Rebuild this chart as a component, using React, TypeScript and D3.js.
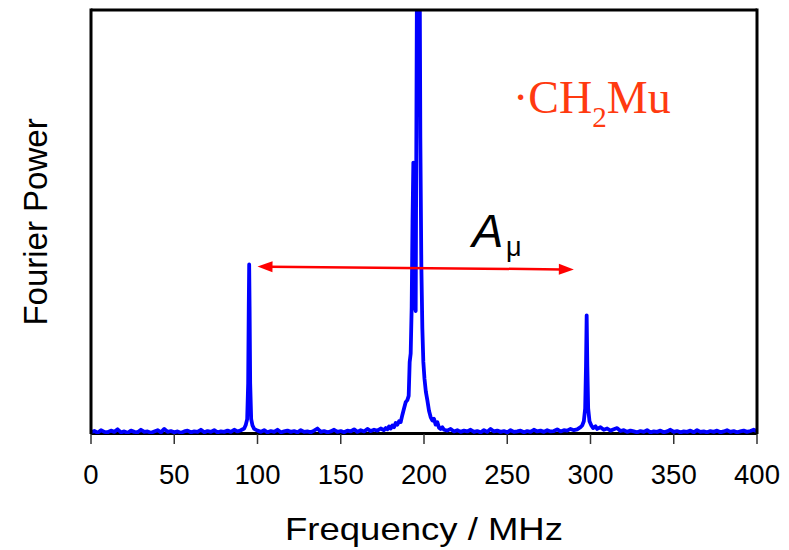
import React from "react";
import * as d3 from "d3";

// ---- data (MHz, Fourier power in arbitrary units) ----
const baselineLow: [number, number][] = [
  [0, .004], [2, .007], [4, .003], [6, .009], [8, .005], [10, .004], [12, .008], [14, .005], [16, .011], [18, .004],
  [20, .006], [22, .003], [24, .008], [26, .005], [28, .004], [30, .010], [32, .005], [34, .006], [36, .003], [38, .006],
  [40, .009], [42, .004], [44, .012], [46, .005], [48, .007], [50, .004], [52, .006], [54, .003], [56, .006], [58, .008],
  [60, .004], [62, .006], [64, .005], [66, .010], [68, .004], [70, .007], [72, .005], [74, .009], [76, .004], [78, .006],
  [80, .005], [82, .008], [84, .005], [86, .010], [88, .006], [90, .009], [92, .013],
];
const peakLow: [number, number][] = [
  [93, .022], [93.8, .035], [94.4, .12], [94.75, .30], [95.0, .40], [95.25, .30], [95.6, .12], [96.2, .035], [97, .02], [98, .012],
];
const baselineMidA: [number, number][] = [
  [100, .008], [102, .005], [104, .009], [106, .004], [108, .007], [110, .005], [112, .010], [114, .004], [116, .006], [118, .008],
  [120, .005], [122, .007], [124, .004], [126, .009], [128, .005], [130, .006], [132, .004], [134, .008], [136, .013], [138, .005],
  [140, .007], [142, .004], [144, .006], [146, .010], [148, .005], [150, .007], [152, .004], [154, .008], [156, .006], [158, .011],
  [160, .005], [162, .009], [164, .006], [166, .012], [168, .007], [170, .010], [172, .008], [174, .013], [176, .009],
];
const peakCentre: [number, number][] = [
  [177, .014], [178, .011], [179, .018], [180, .013], [181, .02], [182, .016], [183, .026], [184, .022], [185, .03], [186, .028],
  [187, .045], [188, .06], [189, .075], [190, .08], [190.8, .09], [191.4, .17], [192, .19], [192.6, .3], [193.1, .5], [193.6, .64],
  [194.1, .5], [194.6, .30], [195.0, .29], [195.4, .7], [196.0, 1.3], [196.6, 1.7], [197.2, 1.3], [197.8, .7], [198.4, .4],
  [199.0, .25], [199.6, .17], [200.3, .13], [201.1, .1], [202, .08], [203, .055], [204, .04], [205, .032], [206, .036], [207, .022],
  [208, .028], [209, .015], [210, .012], [211, .016], [212, .01],
];
const baselineMidB: [number, number][] = [
  [214, .008], [216, .012], [218, .006], [220, .009], [222, .005], [224, .008], [226, .006], [228, .010], [230, .005], [232, .007],
  [234, .004], [236, .009], [238, .005], [240, .012], [242, .006], [244, .008], [246, .005], [248, .007], [250, .004], [252, .009],
  [254, .005], [256, .006], [258, .008], [260, .004], [262, .007], [264, .005], [266, .010], [268, .006], [270, .008], [272, .005],
  [274, .009], [276, .006], [278, .007], [280, .011], [282, .006], [284, .009], [286, .008], [288, .012], [290, .009], [292, .011],
  [294, .016],
];
const peakHigh: [number, number][] = [
  [295, .02], [296, .03], [296.8, .06], [297.3, .16], [297.7, .28], [298.1, .16], [298.6, .06], [299.4, .03], [300.5, .02], [301.5, .014],
];
const baselineHigh: [number, number][] = [
  [303, .018], [304, .012], [306, .016], [308, .010], [310, .013], [312, .008], [314, .011], [316, .014], [318, .007], [320, .009],
  [322, .005], [324, .008], [326, .006], [328, .004], [330, .007], [332, .005], [334, .009], [336, .004], [338, .006], [340, .005],
  [342, .008], [344, .004], [346, .006], [348, .010], [350, .005], [352, .007], [354, .004], [356, .006], [358, .005], [360, .008],
  [362, .004], [364, .009], [366, .005], [368, .006], [370, .004], [372, .007], [374, .005], [376, .008], [378, .004], [380, .006],
  [382, .009], [384, .005], [386, .007], [388, .004], [390, .006], [392, .008], [394, .005], [396, .007], [398, .010], [400, .006],
];
const spectrum = [...baselineLow, ...peakLow, ...baselineMidA, ...peakCentre, ...baselineMidB, ...peakHigh, ...baselineHigh];

const xTicks = [0, 50, 100, 150, 200, 250, 300, 350, 400];
const xDomain: [number, number] = [0, 400];
const yDomain: [number, number] = [0, 1];

// hyperfine splitting arrow (MHz, power)
const arrowStart: [number, number] = [100, 0.395];
const arrowEnd: [number, number] = [290, 0.388];

// ---- layout ----
const W = 789, H = 550;
const L = 91, R = 757, T = 10, B = 434;

export default function App() {
  const x = d3.scaleLinear().domain(xDomain).range([L, R]);
  const y = d3.scaleLinear().domain(yDomain).range([B, T]);
  const line = d3.line<[number, number]>().x(d => x(d[0])).y(d => y(d[1]));

  const ax1 = x(arrowStart[0]), ay1 = y(arrowStart[1]);
  const ax2 = x(arrowEnd[0]), ay2 = y(arrowEnd[1]);
  const ang = Math.atan2(ay2 - ay1, ax2 - ax1);
  const head = (tx: number, ty: number, dir: number) => {
    const len = 15, half = 5.5;
    const bx = tx - Math.cos(dir) * len, by = ty - Math.sin(dir) * len;
    const px = -Math.sin(dir) * half, py = Math.cos(dir) * half;
    return `M${tx},${ty}L${bx + px},${by + py}L${bx - px},${by - py}Z`;
  };
  const shaft = 12;

  return (
    <svg width={W} height={H} style={{ position: "absolute", left: 0, top: 0, background: "#fff" }}
      fontFamily="'Liberation Sans', Arial, sans-serif">
      <defs>
        <clipPath id="plotClip">
          <rect x={L} y={T} width={R - L} height={B - T} />
        </clipPath>
      </defs>
      <rect x={0} y={0} width={W} height={H} fill="#fff" />

      {/* x axis line and ticks */}
      <line x1={L} x2={R} y1={B - 0.5} y2={B - 0.5} stroke="#000" strokeWidth={3} />
      {xTicks.map(t => (
        <g key={t}>
          <line x1={x(t)} x2={x(t)} y1={B} y2={B + 10} stroke="#333" strokeWidth={1.5} />
          <text x={x(t)} y={484} textAnchor="middle" fontSize={27.5} fill="#000">{t}</text>
        </g>
      ))}

      {/* spectrum */}
      <path d={line(spectrum) || ""} fill="none" stroke="#0000ff" strokeWidth={3.8}
        strokeLinejoin="round" strokeLinecap="round" clipPath="url(#plotClip)" />

      {/* frame */}
      <line x1={L} x2={R} y1={T} y2={T} stroke="#000" strokeWidth={3} />
      <line x1={L} x2={L} y1={T - 1.5} y2={B} stroke="#000" strokeWidth={3} />
      <line x1={R} x2={R} y1={T - 1.5} y2={B} stroke="#000" strokeWidth={3} />

      {/* arrow */}
      <line x1={ax1 + Math.cos(ang) * shaft} y1={ay1 + Math.sin(ang) * shaft}
        x2={ax2 - Math.cos(ang) * shaft} y2={ay2 - Math.sin(ang) * shaft}
        stroke="#ff0000" strokeWidth={2.5} />
      <path d={head(ax1, ay1, ang + Math.PI)} fill="#ff0000" />
      <path d={head(ax2, ay2, ang)} fill="#ff0000" />

      {/* A_mu label */}
      <text x={472} y={247} fontSize={47} fontStyle="italic" fill="#000">A</text>
      <text x={506} y={256} fontSize={27} fill="#000">μ</text>

      {/* radical label */}
      <text y={113} fill="#ff3a10" fontFamily="'Liberation Serif', 'Times New Roman', serif" fontSize={46}>
        <tspan x={513}>·CH</tspan>
        <tspan dy={14} fontSize={29}>2</tspan>
        <tspan dy={-14}>Mu</tspan>
      </text>

      {/* axis titles */}
      <text x={424} y={540} textAnchor="middle" fontSize={32} fill="#000"
        textLength={278} lengthAdjust="spacingAndGlyphs">Frequency / MHz</text>
      <text transform="translate(47,222) rotate(-90)" textAnchor="middle" fontSize={33} fill="#000">Fourier Power</text>
    </svg>
  );
}
